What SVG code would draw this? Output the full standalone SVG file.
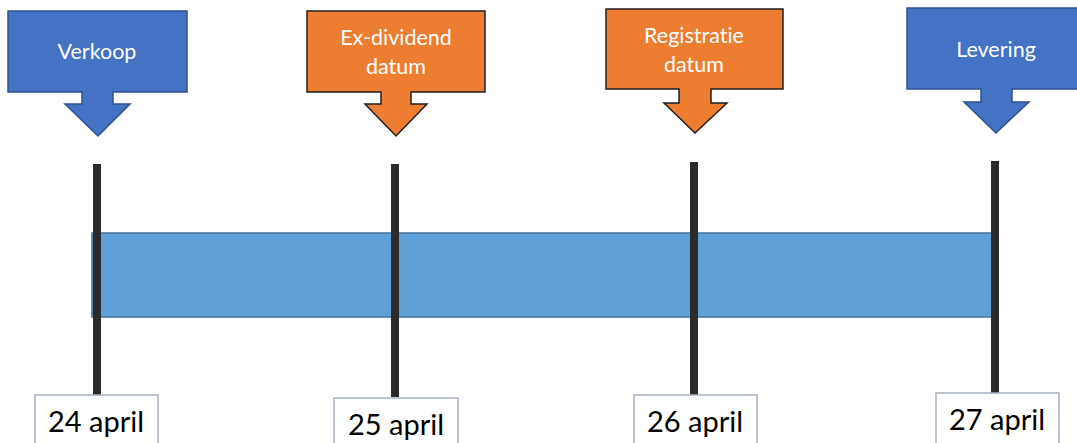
<svg xmlns="http://www.w3.org/2000/svg" width="1077" height="443" viewBox="0 0 1077 443">
<style>
.blue{fill:#4472C4;stroke:#2F528F;stroke-width:1.5}
.orange{fill:#ED7D31;stroke:#1F1F1F;stroke-width:1.5}
text{font-variant-ligatures:none;font-feature-settings:"liga" 0,"dlig" 0}
.ctext{font-family:Lato,"Open Sans",sans-serif;font-size:21.5px;fill:#FFFFFF;text-anchor:middle}
.date{fill:#FFFFFF;stroke:#A6B0C2;stroke-width:1.5}
.dtext{font-family:Lato,"Open Sans",sans-serif;font-size:29px;fill:#000000;text-anchor:middle}
.tick{stroke:#2B2B2B;stroke-width:8}
</style>
<rect width="1077" height="443" fill="#FFFFFF"/>
<g id="bar"><rect x="92" y="233" width="901" height="84" fill="#5FA0D6" stroke="#41719C" stroke-width="1.5"/></g>
<g id="connectors">
<line class="tick" x1="97" y1="164" x2="97" y2="395"/>
<line class="tick" x1="395" y1="164" x2="395" y2="397"/>
<line class="tick" x1="694" y1="162" x2="694" y2="395"/>
<line class="tick" x1="995" y1="161" x2="995" y2="393"/>
</g>
<g id="verkoop">
<path class="blue" d="M8,11 H187 V92 H113 V104 H130 L98,136 L65,104 H82 V92 H8 Z"/>
<text class="ctext" x="97" y="59">Verkoop</text>
</g>
<g id="exdividend">
<path class="orange" d="M307,11 H485 V92 H411 V104 H427 L396,136 L365,104 H381 V92 H307 Z"/>
<text class="ctext" x="396" y="45">Ex-dividend</text>
<text class="ctext" x="396" y="74">datum</text>
</g>
<g id="registratie">
<path class="orange" d="M606,9 H783 V89 H711 V103 H727 L695,133 L664,103 H679 V89 H606 Z"/>
<text class="ctext" x="694" y="43">Registratie</text>
<text class="ctext" x="694" y="72">datum</text>
</g>
<g id="levering">
<path class="blue" d="M907,8 H1085 V89 H1012 V102 H1029 L996,133 L964,102 H981 V89 H907 Z"/>
<text class="ctext" x="996" y="57">Levering</text>
</g>
<g id="d24"><rect class="date" x="35" y="395" width="123" height="60"/><text class="dtext" x="96" y="432">24 april</text></g>
<g id="d25"><rect class="date" x="334" y="398" width="124" height="60"/><text class="dtext" x="396" y="435">25 april</text></g>
<g id="d26"><rect class="date" x="634" y="395" width="123" height="60"/><text class="dtext" x="695" y="432">26 april</text></g>
<g id="d27"><rect class="date" x="936" y="393" width="123" height="60"/><text class="dtext" x="997" y="430">27 april</text></g>
</svg>
